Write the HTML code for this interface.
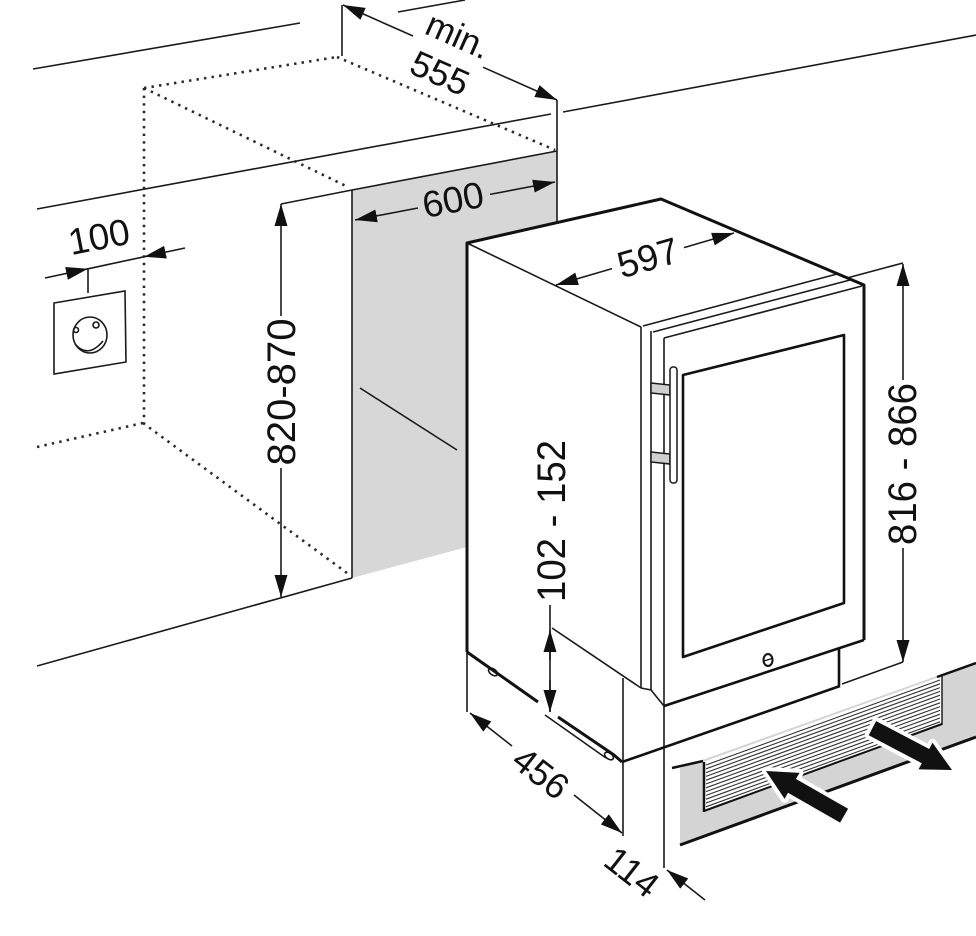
<!DOCTYPE html>
<html><head><meta charset="utf-8">
<style>
html,body{margin:0;padding:0;background:#fff;}
svg{display:block;}
text{font-family:"Liberation Sans",Arial,sans-serif;fill:#111;}
</style></head><body>
<svg width="976" height="936" viewBox="0 0 976 936" xmlns="http://www.w3.org/2000/svg">
<defs>
<marker id="ah" viewBox="0 0 22 13" refX="22" refY="6.5" markerWidth="22" markerHeight="13" markerUnits="userSpaceOnUse" orient="auto"><path d="M0,0L22,6.5L0,13z" fill="#111"/></marker>
</defs>
<rect width="976" height="936" fill="#fff"/>

<!-- gray niche panel -->
<polygon points="352,190 557,151 557,222 467,243 467,547 352,578" fill="#d7d7d7"/>

<!-- wall / counter lines -->
<g stroke="#1a1a1a" stroke-width="1.6" fill="none">
<line x1="33" y1="69" x2="300" y2="23"/>
<line x1="398" y1="12" x2="465" y2="0"/>
<line x1="563" y1="112" x2="976" y2="35"/>
<line x1="37" y1="209" x2="551" y2="114"/>
<line x1="37" y1="666" x2="352" y2="578"/>
<line x1="352" y1="190" x2="352" y2="578"/>
<line x1="352" y1="190" x2="557" y2="151"/>
<line x1="557" y1="100" x2="557" y2="222"/>
<line x1="342" y1="5" x2="342" y2="56"/>
<line x1="281" y1="204" x2="352" y2="190"/>
<line x1="360" y1="388" x2="457" y2="450"/>
</g>

<!-- dotted lines -->
<g stroke="#2a2a2a" stroke-width="2.6" fill="none" stroke-dasharray="2.4 5.2">
<line x1="144" y1="88" x2="337" y2="57"/>
<line x1="144" y1="88" x2="144" y2="423"/>
<line x1="144" y1="88" x2="348" y2="187"/>
<line x1="337" y1="57" x2="555" y2="150"/>
<line x1="37" y1="447" x2="143" y2="423"/>
<line x1="143" y1="423" x2="347" y2="573"/>
</g>

<!-- socket -->
<g stroke="#1a1a1a" stroke-width="1.6" fill="none">
<polygon points="54,303 125,291 126,362 54,374" fill="#fff"/>
<ellipse cx="90" cy="335" rx="17" ry="18"/>
<circle cx="76" cy="330" r="2.5"/>
<circle cx="96" cy="325" r="3"/>
<path d="M75,344 Q88,359 103,341"/>
<line x1="88" y1="268" x2="88" y2="293"/>
</g>

<!-- dimension lines -->
<g stroke="#1a1a1a" stroke-width="1.6" fill="none">
<!-- 100 -->
<line x1="45" y1="278" x2="88" y2="268.8" marker-end="url(#ah)"/>
<line x1="88" y1="268.8" x2="144" y2="256.8"/>
<line x1="185" y1="248" x2="144" y2="256.8" marker-end="url(#ah)"/>
<!-- 555 -->
<line x1="413" y1="36" x2="343" y2="5" marker-end="url(#ah)"/>
<line x1="483" y1="67.2" x2="557" y2="100" marker-end="url(#ah)"/>
<!-- 600 -->
<line x1="418" y1="208" x2="355" y2="220" marker-end="url(#ah)"/>
<line x1="490" y1="194.4" x2="555" y2="182" marker-end="url(#ah)"/>
<!-- 820-870 -->
<line x1="281" y1="316" x2="281" y2="204" marker-end="url(#ah)"/>
<line x1="281" y1="468" x2="281" y2="597" marker-end="url(#ah)"/>
<!-- 816-866 -->
<line x1="847" y1="278" x2="903" y2="263"/>
<line x1="842" y1="684" x2="903" y2="662"/>
<line x1="903" y1="380" x2="903" y2="264" marker-end="url(#ah)"/>
<line x1="903" y1="548" x2="903" y2="662" marker-end="url(#ah)"/>
<!-- 102-152 -->
<line x1="550" y1="605" x2="550" y2="712"/>
<line x1="550" y1="660" x2="550" y2="630" marker-end="url(#ah)"/>
<line x1="550" y1="680" x2="550" y2="712" marker-end="url(#ah)"/>
<!-- 456 -->
<line x1="467" y1="652" x2="467" y2="712"/>
<line x1="623" y1="678" x2="623" y2="836"/>
<line x1="512" y1="746" x2="470" y2="713" marker-end="url(#ah)"/>
<line x1="574" y1="795" x2="622" y2="833" marker-end="url(#ah)"/>
<!-- 114 -->
<line x1="664" y1="338" x2="664" y2="868"/>
<line x1="705" y1="900" x2="667" y2="870" marker-end="url(#ah)"/>
</g>

<!-- appliance -->
<polygon points="467,243 661,199 864,285 641,327" fill="#fff"/>
<g stroke="#1a1a1a" stroke-width="1.6" fill="none">
<!-- 597 -->
<line x1="612" y1="268.6" x2="556" y2="285" marker-end="url(#ah)"/>
<line x1="684" y1="247.6" x2="734" y2="233" marker-end="url(#ah)"/>
<line x1="467" y1="243" x2="641" y2="327"/>
<line x1="643" y1="326" x2="837" y2="274"/>
<line x1="653" y1="332" x2="850" y2="280"/>
<line x1="664" y1="338" x2="862" y2="286"/>
<line x1="641" y1="327" x2="641" y2="688"/>
<line x1="651" y1="331" x2="651" y2="690"/>
<line x1="552" y1="628" x2="641" y2="688"/>
<polyline points="641,688 651,690 664,706"/>
<line x1="545" y1="715" x2="606" y2="758"/>
<ellipse cx="493" cy="672" rx="5" ry="3" transform="rotate(35 493 672)"/>
<ellipse cx="609" cy="756" rx="5" ry="3" transform="rotate(35 609 756)"/>
</g>
<g stroke="#111" stroke-width="3" fill="none" stroke-linejoin="round">
<polyline points="467,652 467,243 661,199 864,285 864,640"/>
<line x1="467" y1="652" x2="538" y2="702"/>
<polyline points="558,717 614,755 622,762"/>
</g>
<g stroke="#111" stroke-width="2.6" fill="none" stroke-linejoin="round">
<polygon points="683,375 844,335 844,603 683,657"/>
<line x1="664" y1="706" x2="864" y2="640"/>
<line x1="839" y1="648" x2="839" y2="686"/>
<line x1="622" y1="762" x2="840" y2="686"/>
</g>
<!-- handle -->
<g stroke="#1a1a1a" stroke-width="1.5">
<polygon points="651,383 670,385 670,395 651,393" fill="#cfcfcf"/>
<polygon points="651,452 670,454 670,464 651,462" fill="#cfcfcf"/>
<rect x="670" y="367" width="7" height="116" rx="3" fill="#fff"/>
</g>
<!-- lock -->
<ellipse cx="768" cy="660" rx="4.5" ry="6" fill="none" stroke="#111" stroke-width="2"/>
<line x1="764" y1="661" x2="772" y2="658.5" stroke="#111" stroke-width="1.4"/>

<!-- grille -->
<polygon points="680,768 976,662 976,738 680,845" fill="#d4d4d4"/>
<polygon points="703,762 942,676 942,725 703,812" fill="#fff"/>
<g stroke="#333" stroke-width="1.1">
<line x1="706" y1="765" x2="940" y2="680"/>
<line x1="706" y1="768.8" x2="940" y2="683.8"/>
<line x1="706" y1="772.6" x2="940" y2="687.6"/>
<line x1="706" y1="776.4" x2="940" y2="691.4"/>
<line x1="706" y1="780.2" x2="940" y2="695.2"/>
<line x1="706" y1="784" x2="940" y2="699"/>
<line x1="706" y1="787.8" x2="940" y2="702.8"/>
<line x1="706" y1="791.6" x2="940" y2="706.6"/>
<line x1="706" y1="795.4" x2="940" y2="710.4"/>
<line x1="706" y1="799.2" x2="940" y2="714.2"/>
<line x1="706" y1="803" x2="940" y2="718"/>
<line x1="706" y1="806.8" x2="940" y2="721.8"/>
</g>
<g stroke="#111" fill="none">
<line x1="672" y1="768" x2="703" y2="761" stroke-width="2.5"/>
<line x1="937" y1="677" x2="976" y2="663" stroke-width="2.5"/>
<line x1="704" y1="762" x2="704" y2="812" stroke-width="2.5"/>
<line x1="704" y1="811" x2="942" y2="724" stroke-width="2"/>
<line x1="942" y1="676" x2="942" y2="725" stroke-width="1.4"/>
<line x1="680" y1="845" x2="976" y2="737" stroke-width="3"/>
</g>
<!-- airflow arrows -->
<g stroke="#fff" stroke-width="8" stroke-linejoin="round" fill="#fff">
<polygon points="766,771 799.5,772.9 796,779 848.1,808.8 840.1,822.6 788,792.8 784.6,798.9"/>
<polygon points="952,770 918.5,769.4 921.8,763.2 868.7,735.3 876.1,721.1 929.2,749 932.5,742.8"/>
</g>
<g fill="#111">
<polygon points="766,771 799.5,772.9 796,779 848.1,808.8 840.1,822.6 788,792.8 784.6,798.9"/>
<polygon points="952,770 918.5,769.4 921.8,763.2 868.7,735.3 876.1,721.1 929.2,749 932.5,742.8"/>
</g>

<!-- labels -->
<g text-anchor="middle" dominant-baseline="central">
<text x="458" y="36" font-size="35" transform="rotate(24 458 36)">min.</text>
<text x="440" y="73" font-size="36" transform="rotate(24 440 73)">555</text>
<text x="99" y="237" font-size="37" transform="rotate(-11 99 237)">100</text>
<text x="453" y="200" font-size="37" transform="rotate(-11 453 200)">600</text>
<text x="648" y="258" font-size="37" transform="rotate(-16 648 258)">597</text>
<text x="282" y="392" font-size="40" textLength="147" lengthAdjust="spacingAndGlyphs" transform="rotate(-90 282 392)">820-870</text>
<text x="903" y="464" font-size="40" textLength="162" lengthAdjust="spacingAndGlyphs" transform="rotate(-90 903 464)">816 - 866</text>
<text x="552" y="521" font-size="40" textLength="162" lengthAdjust="spacingAndGlyphs" transform="rotate(-90 552 521)">102 - 152</text>
<text x="541" y="773" font-size="36" transform="rotate(38 541 773)">456</text>
<text x="632" y="872" font-size="36" transform="rotate(38 632 872)">114</text>
</g>
</svg>
</body></html>
